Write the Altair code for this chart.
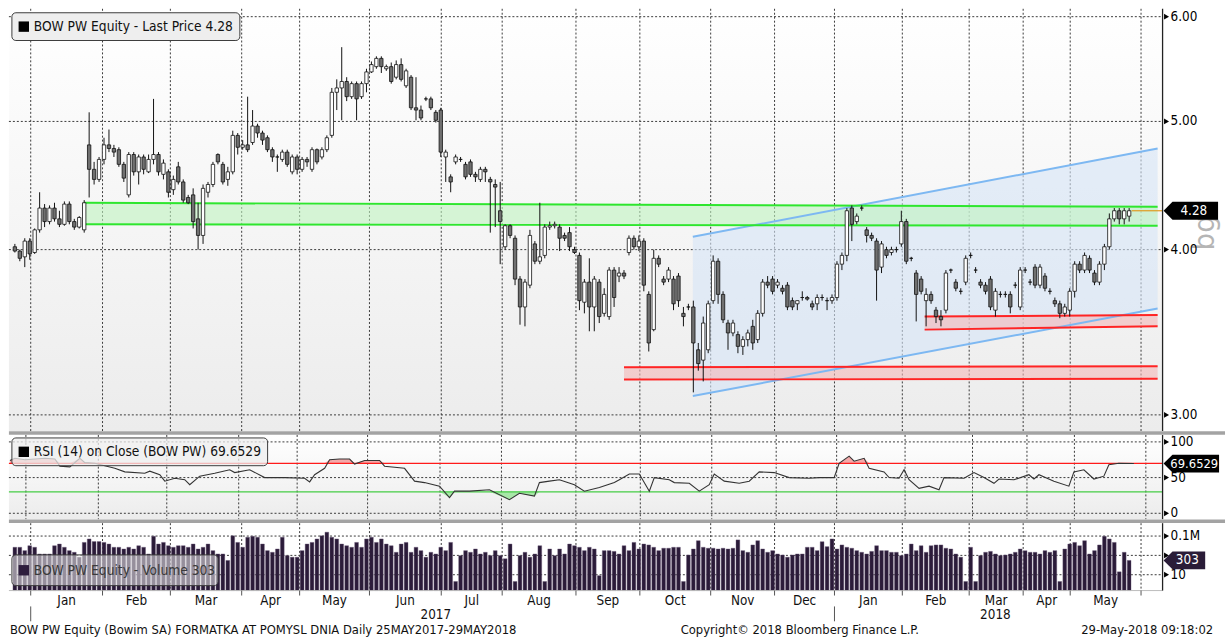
import altair as alt
import pandas as pd

# ---------------- data ----------------
OPEN = [4.02,3.99,3.95,4.06,3.98,4.14,4.30,4.20,4.30,4.22,4.18,4.33,4.20,4.16,4.14,4.80,4.60,4.52,4.68,4.80,
        4.77,4.76,4.64,4.40,4.72,4.58,4.70,4.58,4.68,4.72,4.56,4.58,4.44,4.62,4.50,4.38,4.40,4.22,4.10,4.42,
        4.48,4.72,4.64,4.52,4.58,4.88,4.78,4.80,4.82,4.96,4.90,4.86,4.76,4.70,4.68,4.74,4.58,4.70,4.60,4.68,
        4.60,4.76,4.70,4.76,4.88,5.26,5.30,5.36,5.22,5.34,5.22,5.34,5.45,5.50,5.58,5.48,5.50,5.40,5.52,5.32,
        5.40,5.12,5.10,5.20,5.20,5.08,5.10,4.70,4.54,4.66,4.68,4.64,4.66,4.56,4.52,4.60,4.52,4.48,4.28,4.02,
        4.17,4.08,3.80,3.62,3.76,4.04,3.92,3.96,4.16,4.17,4.16,4.10,4.12,4.00,3.96,3.65,3.78,3.62,3.78,3.58,
        3.56,3.86,3.82,3.84,3.98,4.08,4.02,4.06,3.70,3.48,3.94,3.80,3.80,3.80,3.82,3.58,3.62,3.62,3.36,3.30,
        3.36,3.66,3.92,3.70,3.52,3.46,3.45,3.38,3.42,3.50,3.42,3.58,3.78,3.80,3.76,3.74,3.76,3.66,3.64,3.68,
        3.68,3.64,3.64,3.68,3.66,3.66,3.68,3.90,3.96,4.30,4.20,4.30,4.14,4.10,4.06,3.88,4.00,3.98,4.00,4.04,
        4.20,3.94,3.84,3.80,3.66,3.70,3.60,3.56,3.60,3.86,3.78,3.72,3.78,3.96,3.86,3.78,3.76,3.80,3.60,3.70,
        3.70,3.70,3.76,3.62,3.86,3.78,3.88,3.76,3.82,3.72,3.66,3.64,3.58,3.60,3.72,3.90,3.86,3.94,3.84,3.78,
        3.90,4.02,4.22,4.28,4.22,4.24]
HIGH = [4.04,4.00,4.08,4.08,4.15,4.42,4.33,4.32,4.34,4.28,4.35,4.35,4.22,4.24,4.36,5.08,4.66,4.70,4.86,4.93,
        4.80,4.78,4.66,4.74,4.74,4.72,4.72,4.72,5.20,4.74,4.68,4.60,4.55,4.66,4.52,4.40,4.45,4.34,4.48,4.50,
        4.66,4.73,4.66,4.62,4.92,4.90,4.84,5.22,5.10,4.98,4.92,4.88,4.78,4.72,4.76,4.76,4.72,4.72,4.70,4.70,
        4.78,4.77,4.78,4.88,5.30,5.38,5.69,5.40,5.36,5.36,5.36,5.48,5.55,5.60,5.60,5.52,5.54,5.56,5.58,5.48,
        5.42,5.40,5.14,5.22,5.22,5.10,5.12,4.76,4.56,4.72,4.70,4.66,4.68,4.58,4.62,4.62,4.54,4.52,4.50,4.18,
        4.18,4.10,3.82,3.80,4.14,4.06,4.34,4.18,4.20,4.20,4.18,4.12,4.16,4.02,3.98,3.80,3.94,3.82,3.80,3.74,
        3.88,3.88,3.88,3.86,4.10,4.10,4.10,4.08,3.72,4.00,3.96,3.82,3.88,3.82,3.84,3.62,3.64,3.66,3.40,3.56,
        3.66,3.96,3.94,3.72,3.54,3.54,3.47,3.44,3.48,3.54,3.60,3.80,3.82,3.82,3.80,3.76,3.78,3.68,3.66,3.72,
        3.69,3.66,3.70,3.70,3.68,3.70,3.92,3.98,4.30,4.32,4.26,4.32,4.16,4.12,4.08,4.06,4.02,4.02,4.02,4.28,
        4.22,3.95,3.86,3.82,3.74,3.72,3.62,3.60,3.86,3.87,3.80,3.74,3.96,3.98,3.88,3.80,3.78,3.82,3.74,3.72,
        3.72,3.72,3.78,3.88,3.88,3.80,3.90,3.90,3.84,3.74,3.68,3.66,3.64,3.74,3.92,3.92,3.98,3.96,3.86,3.92,
        4.04,4.26,4.30,4.30,4.30,4.30]
LOW = [3.98,3.92,3.88,3.93,3.97,4.12,4.16,4.18,4.20,4.16,4.17,4.18,4.14,4.15,4.12,4.38,4.48,4.50,4.64,4.74,
       4.70,4.62,4.50,4.38,4.55,4.48,4.56,4.57,4.64,4.55,4.52,4.38,4.40,4.48,4.34,4.33,4.15,4.00,4.04,4.38,
       4.46,4.64,4.48,4.47,4.56,4.72,4.76,4.74,4.80,4.86,4.80,4.74,4.66,4.58,4.66,4.62,4.56,4.56,4.58,4.62,
       4.58,4.64,4.68,4.74,4.86,5.10,5.01,5.18,5.20,5.01,5.20,5.26,5.44,5.48,5.44,5.46,5.34,5.38,5.36,5.30,
       5.10,5.01,5.01,5.18,5.10,4.99,4.70,4.50,4.42,4.64,4.66,4.52,4.54,4.50,4.50,4.50,4.12,4.16,3.90,4.00,
       4.08,3.76,3.51,3.50,3.74,3.90,3.90,3.94,4.14,4.15,3.99,4.06,3.99,3.97,3.60,3.58,3.47,3.47,3.52,3.56,
       3.54,3.62,3.78,3.80,3.96,4.00,3.99,3.72,3.35,3.47,3.88,3.76,3.78,3.60,3.62,3.50,3.60,3.12,3.24,3.18,
       3.34,3.64,3.64,3.52,3.36,3.44,3.34,3.33,3.38,3.36,3.40,3.56,3.74,3.70,3.74,3.70,3.60,3.60,3.60,3.66,
       3.66,3.60,3.60,3.66,3.60,3.64,3.66,3.86,3.92,4.06,4.18,4.28,4.05,4.06,3.66,3.84,3.94,3.96,3.98,4.02,
       3.90,3.92,3.53,3.70,3.50,3.64,3.52,3.50,3.58,3.84,3.72,3.70,3.76,3.94,3.84,3.74,3.70,3.60,3.56,3.68,
       3.68,3.58,3.74,3.60,3.84,3.76,3.74,3.74,3.72,3.70,3.62,3.55,3.56,3.56,3.68,3.84,3.84,3.84,3.76,3.76,
       3.86,4.00,4.20,4.18,4.18,4.20]
CLOSE = [3.99,3.94,4.06,3.97,4.14,4.30,4.20,4.30,4.22,4.18,4.33,4.20,4.16,4.23,4.34,4.60,4.52,4.68,4.80,4.77,
         4.74,4.64,4.53,4.72,4.58,4.70,4.60,4.68,4.72,4.58,4.65,4.42,4.52,4.50,4.36,4.34,4.20,4.10,4.45,4.48,
         4.64,4.66,4.50,4.58,4.88,4.78,4.80,4.76,4.96,4.90,4.84,4.76,4.70,4.70,4.74,4.64,4.70,4.60,4.68,4.66,
         4.76,4.66,4.76,4.86,5.26,5.30,5.36,5.22,5.34,5.20,5.34,5.45,5.52,5.58,5.50,5.50,5.36,5.52,5.38,5.46,
         5.12,5.10,5.03,5.20,5.12,5.01,4.74,4.74,4.50,4.70,4.68,4.54,4.56,4.54,4.60,4.58,4.50,4.46,4.20,4.17,
         4.10,3.80,3.62,3.78,4.10,3.92,3.95,4.16,4.17,4.18,4.08,4.08,4.02,3.98,3.66,3.78,3.62,3.80,3.56,3.70,
         3.86,3.68,3.84,3.82,4.08,4.02,4.06,3.76,3.40,3.94,3.90,3.78,3.86,3.64,3.66,3.56,3.62,3.40,3.28,3.52,
         3.64,3.92,3.70,3.54,3.46,3.52,3.38,3.42,3.46,3.40,3.58,3.78,3.76,3.72,3.78,3.72,3.62,3.62,3.66,3.68,
         3.67,3.62,3.68,3.68,3.66,3.68,3.90,3.96,4.28,4.18,4.24,4.30,4.10,4.08,3.86,4.04,3.96,4.00,4.00,4.20,
         3.92,3.94,3.70,3.72,3.70,3.66,3.56,3.54,3.84,3.86,3.74,3.72,3.94,3.96,3.86,3.76,3.72,3.62,3.72,3.70,
         3.70,3.62,3.76,3.86,3.86,3.78,3.76,3.88,3.74,3.72,3.64,3.58,3.62,3.72,3.90,3.86,3.96,3.86,3.78,3.90,
         4.02,4.22,4.28,4.22,4.28,4.28]
VOLUME = [6900,6900,3100,10000,6900, 1400,1400,1400,10000,15000, 6900,3100,2100,650,22000,
          50000,27000,27000,22000,15000, 6900,6900,4600,6900,4600, 10000,6900,1400,95000,15000,
          22000,10000,6900,10000,10000, 6900,15000,4600,6900,15000, 3100,1400,1400,300,107000,
          22000,6900,75000,95000,75000, 15000,3100,2100,4600,75000, 950,650,650,3100,15000,
          22000,50000,107000,250000,75000, 50000,15000,10000,6900,22000, 6900,50000,75000,22000,50000,
          15000,10000,2100,15000,22000, 2100,6900,3100,650,2100, 1400,6900,3100,22000,2,
          950,3100,2100,4600,1400, 2100,950,3100,950,450, 15000,2,950,2100,650,
          1400,10000,2,4600,950, 4600,1400,15000,10000,6900, 3100,6900,4600,8,3100,
          3100,2600,1400,10000,3100, 22000,4600,15000,12000,6900, 3100,5500,5500,6900,6900,
          2,1100,4600,33000,6900, 5500,5500,4600,5500,4600, 5500,40000,3100,2100,12000,
          33000,4600,2100,3100,1400, 1100,650,1100,1400,1400, 6900,6900,3100,26000,8000,
          50000,4600,12000,6900,5500, 3100,2100,1400,2600,10000, 3100,3100,2100,2100,950,
          1400,15000,3100,10000,2100, 10000,12000,12000,5500,4600, 1400,650,2,6900,2,
          950,2100,2600,1400,950, 1100,1400,2100,4600,3100, 2100,2100,1400,3100,2100,
          3100,2,4600,15000,22000, 10000,33000,1400,3100,12000, 95000,50000,22000,20,2100,303]
RSI_IDX = [0,1,3,5,7,9,10,12,14,15,17,21,23,27,28,30,31,33,35,36,38,41,44,45,48,51,55,59,60,61,
           63,64,66,68,69,71,74,75,79,81,83,86,88,89,92,96,100,102,105,106,108,110,113,115,118,121,122,124,126,128,
           129,132,133,136,138,140,141,143,146,148,150,153,156,160,162,165,166,168,169,171,172,175,176,178,179,180,182,184,186,187,
           191,193,195,197,198,201,204,205,206,209,212,213,215,217,219,220,222,225]
RSI_VAL = [74,77,75,76,77,76,66,65,77,71,70,63,58,56,59,54,45,49,47,40,52,56,61,57,61,50,50,49,44,54,
           63,75,76,76,69,74,74,66,63,45,43,38,22,31,31,33,19,28,24,43,45,47,40,31,36,43,47,55,55,31,
           50,47,43,42,31,40,55,45,42,45,58,57,50,49,50,50,70,80,73,77,63,58,50,49,61,47,35,38,33,50,
           49,57,50,42,48,47,54,48,54,45,38,58,61,48,52,68,70,69.6529]
MONTH_EDGES = [3.2, 17.7, 31.4, 45.8, 57.5, 71.6, 86.1, 98.4, 113.3, 126.2, 140.5, 153.4, 165.5,
               179.2, 192.7, 203.6, 213.1, 227.4]
MONTH_LABELS = ["Jan", "Feb", "Mar", "Apr", "May", "Jun", "Jul", "Aug", "Sep", "Oct", "Nov", "Dec",
                "Jan", "Feb", "Mar", "Apr", "May"]
YEAR_EDGES = [3.2, 165.5]
YEAR_POS = [85.0, 198.0]
YEAR_LABELS = ["2017", "2018"]
PRICE_TICKS = [3, 4, 5, 6]
PRICE_TICK_LABELS = ["3.00", "4.00", "5.00", "6.00"]
RSI_TICKS = [0, 50, 100]
RSI_TICK_LABELS = ["0", "50", "100"]
VOL_TICKS = [10, 1000, 100000]
VOL_TICK_LABELS = ["10", "", "0.1M"]
# drawn studies (x in bar index, prices)
GREEN_X, GREEN_TOP, GREEN_BOT = [13.9, 230.75], [4.34, 4.31], [4.18, 4.17]
RED1_X, RED1_TOP, RED1_BOT = [123.0, 230.75], [3.26, 3.265], [3.19, 3.195]
RED2_X, RED2_TOP, RED2_BOT = [183.7, 230.75], [3.56, 3.57], [3.48, 3.50]
CHAN_X, CHAN_TOP, CHAN_BOT = [136.9, 230.75], [4.09, 4.77], [3.10, 3.61]

# ---------------- layout / style ----------------
W = 1164
H1, H2, H3 = 426, 85, 68
XMIN, XMAX = -0.2, 230.75
VMIN = 0.229
FONT = "DejaVu Sans Condensed, DejaVu Sans, sans-serif"
GRID = "#3a3a3a"

N = len(CLOSE)
df = pd.DataFrame({"i": list(range(N)), "o": OPEN, "h": HIGH, "l": LOW, "c": CLOSE, "v": VOLUME})
one = pd.DataFrame({"k": [0]})
edges_df = pd.DataFrame({"e": MONTH_EDGES})

xs = alt.Scale(domain=[XMIN, XMAX], nice=False, zero=False)
ps = alt.Scale(type="log", domain=[2.917, 6.083], nice=False)
rs = alt.Scale(domain=[-8.3, 109.7], nice=False, zero=False)
vs = alt.Scale(type="log", domain=[VMIN, 2.15e6], nice=False)

grad = alt.LinearGradient(gradient="linear",
                          stops=[alt.GradientStop(color="#ffffff", offset=0),
                                 alt.GradientStop(color="#ececec", offset=1)],
                          x1=0, x2=0, y1=0, y2=1)


def background(h, fill):
    return alt.Chart(one).mark_rect(color=fill).encode(
        x=alt.value(0), x2=alt.value(W), y=alt.value(0), y2=alt.value(h))


def vgrid(h):
    return alt.Chart(edges_df).mark_rule(color=GRID, strokeDash=[2, 2], strokeWidth=1).encode(
        x=alt.X("e:Q", scale=xs, axis=None), y=alt.value(0), y2=alt.value(h))


def hgrid(values, scale):
    d = pd.DataFrame({"g": values})
    return alt.Chart(d).mark_rule(color=GRID, strokeDash=[2, 2], strokeWidth=1).encode(
        y=alt.Y("g:Q", scale=scale, axis=None), x=alt.value(0), x2=alt.value(W))


def right_axis(values, labels, scale, h):
    d = pd.DataFrame({"t": values, "lab": labels})
    dom = alt.Chart(one).mark_rule(color="#222", strokeWidth=1.3).encode(
        x=alt.value(W), y=alt.value(0), y2=alt.value(h))
    tk = alt.Chart(d).mark_point(shape="triangle-right", filled=True, size=34, color="#000",
                                 opacity=1).encode(
        x=alt.value(W + 4), y=alt.Y("t:Q", scale=scale, axis=None))
    lab = alt.Chart(d).mark_text(align="left", baseline="middle", fontSize=13.5, color="#000",
                                 font=FONT).encode(
        x=alt.value(W + 8), y=alt.Y("t:Q", scale=scale, axis=None), text="lab:N")
    return [dom, tk, lab]


def tag_path(w, h):
    s = w / 2.0
    hh = (h / 2.0) / s
    return f"M-1,0L{-1 + hh:.3f},{-hh:.3f}L1,{-hh:.3f}L1,{hh:.3f}L{-1 + hh:.3f},{hh:.3f}Z"


def value_tag(yval, text, w, color, scale, fontsize=13.5):
    d = pd.DataFrame({"y": [yval]})
    shape = alt.Chart(d).mark_point(shape=tag_path(w, 18), size=w * w, filled=True,
                                    color=color, opacity=1).encode(
        x=alt.value(W + 1 + w / 2.0), y=alt.Y("y:Q", scale=scale, axis=None))
    label = alt.Chart(d).mark_text(text=text, color="white", fontSize=fontsize, align="center",
                                   baseline="middle", font=FONT).encode(
        x=alt.value(W + 4 + w / 2.0), y=alt.Y("y:Q", scale=scale, axis=None))
    return [shape, label]


def legend_box(x1, x2, y1, y2, text, color, fill_op=1.0, text_color="#111"):
    box = alt.Chart(one).mark_rect(fill="#eeeeee", fillOpacity=fill_op, stroke="#3c3c3c",
                                   strokeWidth=1, cornerRadius=4).encode(
        x=alt.value(x1), x2=alt.value(x2), y=alt.value(y1), y2=alt.value(y2))
    sq = alt.Chart(one).mark_square(size=110, color=color, filled=True, opacity=1).encode(
        x=alt.value(x1 + 12), y=alt.value((y1 + y2) / 2.0))
    txt = alt.Chart(one).mark_text(text=text, align="left", baseline="middle", fontSize=13.8,
                                   color=text_color, font=FONT).encode(
        x=alt.value(x1 + 22), y=alt.value((y1 + y2) / 2.0 + 0.5))
    return [box, sq, txt]


def separator(h):
    return alt.Chart(one).mark_rule(color="#a3a3a3", strokeWidth=3.5).encode(
        x=alt.value(0), x2=alt.value(W + 63), y=alt.value(h + 2))


def band(xv, top, bot, fill, line, op):
    d = pd.DataFrame({"x": xv, "top": top, "bot": bot})
    b = alt.Chart(d)
    x = alt.X("x:Q", scale=xs, axis=None)
    area = b.mark_area(color=fill, opacity=op).encode(x=x, y=alt.Y("top:Q", scale=ps, axis=None), y2="bot:Q")
    l1 = b.mark_line(color=line, strokeWidth=2).encode(x=x, y=alt.Y("top:Q", scale=ps, axis=None))
    l2 = b.mark_line(color=line, strokeWidth=2).encode(x=x, y=alt.Y("bot:Q", scale=ps, axis=None))
    return area, l1, l2

# ---------------- price panel ----------------
base = alt.Chart(df)
wick = base.mark_rule(color="#111", strokeWidth=1).encode(
    x=alt.X("i:Q", scale=xs, axis=None),
    y=alt.Y("l:Q", scale=ps, axis=None), y2="h:Q")
body = base.mark_bar(size=3.4, stroke="#111", strokeWidth=0.8).encode(
    x=alt.X("i:Q", scale=xs, axis=None),
    y=alt.Y("o:Q", scale=ps, axis=None), y2="c:Q",
    fill=alt.condition("datum.c >= datum.o", alt.value("#ffffff"), alt.value("#707070")))

chan_a, chan_l1, chan_l2 = band(CHAN_X, CHAN_TOP, CHAN_BOT, "#d6e5f7", "#7db8f2", 0.6)
g_a, g_l1, g_l2 = band(GREEN_X, GREEN_TOP, GREEN_BOT, "#bff3bf", "#2ee62e", 0.6)
r1_a, r1_l1, r1_l2 = band(RED1_X, RED1_TOP, RED1_BOT, "#f3b8b8", "#ff2424", 0.6)
r2_a, r2_l1, r2_l2 = band(RED2_X, RED2_TOP, RED2_BOT, "#f3b8b8", "#ff2424", 0.6)

last_df = pd.DataFrame({"x": [N - 0.5], "y": [CLOSE[-1]]})
last_line = alt.Chart(last_df).mark_rule(color="#e09a1e", strokeWidth=1.2).encode(
    x=alt.X("x:Q", scale=xs, axis=None), x2=alt.value(W), y=alt.Y("y:Q", scale=ps, axis=None))
watermark = alt.Chart(one).mark_text(text="bg", angle=270, fontSize=28, color="#b5b5b5",
                                     font="DejaVu Sans").encode(x=alt.value(W + 44), y=alt.value(226))

price = alt.layer(
    background(H1, grad), vgrid(H1), hgrid(PRICE_TICKS, ps),
    chan_a, r1_a, r2_a, g_a, chan_l1, chan_l2, r1_l1, r1_l2, r2_l1, r2_l2, g_l1, g_l2,
    wick, body, last_line, watermark,
    *right_axis(PRICE_TICKS, PRICE_TICK_LABELS, ps, H1),
    *value_tag(CLOSE[-1], f"{CLOSE[-1]:.2f}", 55, "#000000", ps),
    *legend_box(3, 233, 4, 32, f"BOW PW Equity - Last Price {CLOSE[-1]:.2f}", "#000000"),
    separator(H1),
).properties(width=W, height=H1)

# ---------------- RSI panel ----------------
rsi_df = pd.DataFrame({"i": RSI_IDX, "r": RSI_VAL})
rb = alt.Chart(rsi_df).transform_calculate(hi="max(datum.r, 70)", lo="min(datum.r, 30)",
                                           b70="70", b30="30")
rx = alt.X("i:Q", scale=xs, axis=None)
pink = rb.mark_area(color="#f2a0a0", opacity=0.9).encode(
    x=rx, y=alt.Y("hi:Q", scale=rs, axis=None), y2="b70:Q")
greenf = rb.mark_area(color="#9fe59f", opacity=0.9).encode(x=rx, y=alt.Y("lo:Q", scale=rs, axis=None), y2="b30:Q")
rline = rb.mark_line(color="#333333", strokeWidth=1.1).encode(x=rx, y=alt.Y("r:Q", scale=rs, axis=None))
lvl_df = pd.DataFrame({"y": [70, 30], "col": ["#ff1a1a", "#44cc44"]})
levels = alt.Chart(lvl_df).mark_rule(strokeWidth=1.2).encode(
    x=alt.value(0), x2=alt.value(W), y=alt.Y("y:Q", scale=rs, axis=None),
    color=alt.Color("col:N", scale=None, legend=None))

rsi = alt.layer(
    background(H2, grad), vgrid(H2), hgrid(RSI_TICKS, rs),
    pink, greenf, levels, rline,
    *right_axis(RSI_TICKS, RSI_TICK_LABELS, rs, H2),
    *value_tag(RSI_VAL[-1], f"{RSI_VAL[-1]:.4f}", 56, "#000000", rs, fontsize=13),
    *legend_box(3, 261, 3, 31, f"RSI (14) on Close (BOW PW) {RSI_VAL[-1]:.4f}", "#000000", fill_op=0.75),
    separator(H2),
).properties(width=W, height=H2)

# ---------------- volume panel ----------------
vbars = alt.Chart(df).transform_calculate(vb=str(VMIN)).mark_bar(
    size=3.8, color="#2b1b39", stroke="#6a5a78", strokeWidth=0.4).encode(
    x=alt.X("i:Q", scale=xs, axis=None),
    y=alt.Y("v:Q", scale=vs, axis=None), y2="vb:Q")

btick = alt.Chart(edges_df).mark_rule(color="#555", strokeWidth=1).encode(
    x=alt.X("e:Q", scale=xs, axis=None), y=alt.value(H3), y2=alt.value(H3 + 5))
bline = alt.Chart(one).mark_rule(color="#bbbbbb", strokeWidth=1).encode(
    x=alt.value(0), x2=alt.value(W), y=alt.value(H3))

mids = [(a + b) / 2.0 for a, b in zip(MONTH_EDGES[:-1], MONTH_EDGES[1:])]
mdf = pd.DataFrame({"m": mids, "label": MONTH_LABELS})
mtext = alt.Chart(mdf).mark_text(fontSize=13.5, baseline="middle", color="#111", font=FONT).encode(
    x=alt.X("m:Q", scale=xs, axis=None), y=alt.value(H3 + 11), text="label:N")
ydf = pd.DataFrame({"m": YEAR_POS, "label": YEAR_LABELS})
ytext = alt.Chart(ydf).mark_text(fontSize=13.5, baseline="middle", color="#111", font=FONT).encode(
    x=alt.X("m:Q", scale=xs, axis=None), y=alt.value(H3 + 25), text="label:N")
yedf = pd.DataFrame({"e": YEAR_EDGES})
yticks = alt.Chart(yedf).mark_rule(color="#555", strokeWidth=1).encode(
    x=alt.X("e:Q", scale=xs, axis=None), y=alt.value(H3 + 16), y2=alt.value(H3 + 31))

footer_l = alt.Chart(one).mark_text(
    text="BOW PW Equity (Bowim SA) FORMATKA AT POMYSL DNIA  Daily 25MAY2017-29MAY2018",
    align="left", baseline="middle", fontSize=13, color="#111", font=FONT).encode(
    x=alt.value(1), y=alt.value(H3 + 40))
footer_c = alt.Chart(one).mark_text(
    text="Copyright\u00a9 2018 Bloomberg Finance L.P.", align="center", baseline="middle",
    fontSize=13, color="#111", font=FONT).encode(x=alt.value(798), y=alt.value(H3 + 40))
footer_r = alt.Chart(one).mark_text(
    text="29-May-2018 09:18:02", align="right", baseline="middle", fontSize=13, color="#111",
    font=FONT).encode(x=alt.value(1215), y=alt.value(H3 + 40))

vol = alt.layer(
    vgrid(H3), hgrid(VOL_TICKS, vs),
    vbars, bline, btick,
    *right_axis(VOL_TICKS, VOL_TICK_LABELS, vs, H3),
    *legend_box(3, 211, 32, 63, f"BOW PW Equity - Volume {VOLUME[-1]}", "#2e1e3d", fill_op=0.55,
                text_color="#3a3a3a"),
    *value_tag(VOLUME[-1], f"{VOLUME[-1]}", 42, "#2a1c38", vs),
    mtext, ytext, yticks, footer_l, footer_c, footer_r,
).properties(width=W, height=H3)

chart = alt.vconcat(price, rsi, vol, spacing=4, bounds="flush").properties(
    padding={"left": 7, "top": 5, "right": 0, "bottom": 0}, background="#ffffff"
).configure(font="DejaVu Sans").configure_view(stroke=None)

chart.save("out.html", embed_options={"renderer": "svg", "actions": False})
